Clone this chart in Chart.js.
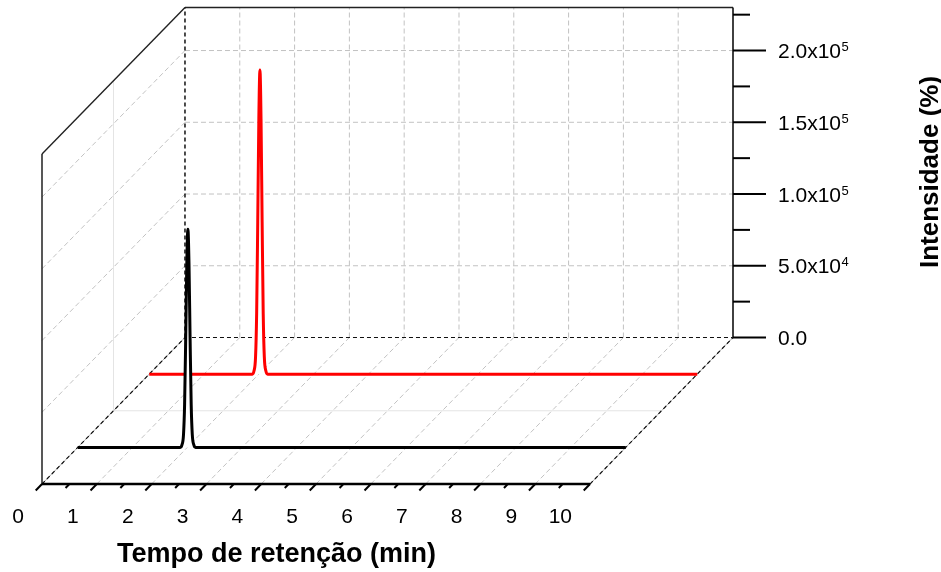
<!DOCTYPE html>
<html>
<head>
<meta charset="utf-8">
<script src="https://cdn.jsdelivr.net/npm/chart.js@4/dist/chart.umd.min.js"></script>
<style>
  html, body { margin: 0; padding: 0; background: #fff; overflow: hidden; }
  #wrap { width: 941px; height: 572px; position: relative; }
</style>
</head>
<body>
<div id="wrap"><canvas id="c"></canvas></div>
<script>
// Chromatogram 1 (black, front row): retention time (min) and intensity
const timeA = [0, 1.87, 1.90, 1.93, 1.95, 1.97, 1.99, 2.01, 2.03, 2.05, 2.07, 2.09, 2.12, 2.15, 10];
const intensityA = [0, 0, 1500, 9000, 30000, 76000, 128000, 152000, 128000, 76000, 30000, 9000, 1500, 0, 0];

// Chromatogram 2 (red, back row)
const timeB = [0, 1.88, 1.91, 1.94, 1.96, 1.98, 2.00, 2.02, 2.04, 2.06, 2.08, 2.10, 2.13, 2.16, 10];
const intensityB = [0, 0, 2000, 12000, 42000, 106000, 178000, 212000, 178000, 106000, 42000, 12000, 2000, 0, 0];

// Axis ticks and labels
const xTicks = [0, 1, 2, 3, 4, 5, 6, 7, 8, 9, 10];
const xTickLabels = ['0', '1', '2', '3', '4', '5', '6', '7', '8', '9', '10'];
const yTicks = [0, 50000, 100000, 150000, 200000];
const yTickMantissa = ['0.0', '5.0x10', '1.0x10', '1.5x10', '2.0x10'];
const yTickExponent = ['', '4', '5', '5', '5'];
const yMinorTicks = [25000, 75000, 125000, 175000, 225000];
const xTitle = 'Tempo de retenção (min)';
const yTitle = 'Intensidade (%)';

// Box extents and oblique depth offset (in back-plane data units)
const T_MAX = 10;
const I_MAX = 230000;
const DEPTH_DX = 2.609;
const DEPTH_DY = 102100;
const DEPTH_A = 0.25;   // 0 = front face, 1 = back plane
const DEPTH_B = 0.75;

// Oblique projection of (time, intensity, depth) onto the back plane
function toPlane(t, I, d) {
  return { x: t - (1 - d) * DEPTH_DX, y: I - (1 - d) * DEPTH_DY };
}

const FONT = "'Liberation Sans', Arial, Helvetica, sans-serif";

const boxPlugin = {
  id: 'box3d',
  beforeDatasetsDraw(chart) {
    const ctx = chart.ctx;
    const xs = chart.scales.x, ys = chart.scales.y;
    const P = (t, I, d) => {
      const q = toPlane(t, I, d);
      return [xs.getPixelForValue(q.x), ys.getPixelForValue(q.y)];
    };
    const seg = (a, b, color, width, dash) => {
      ctx.save();
      ctx.beginPath();
      ctx.strokeStyle = color;
      ctx.lineWidth = width;
      ctx.setLineDash(dash || []);
      ctx.moveTo(a[0], a[1]);
      ctx.lineTo(b[0], b[1]);
      ctx.stroke();
      ctx.restore();
    };
    const GRID = '#c2c2c2';
    const GDASH = [5, 3];

    // mid-depth guide lines
    seg(P(0, 0, 0.5), P(0, I_MAX, 0.5), '#e4e4e4', 1);
    seg(P(0, 0, 0.5), P(T_MAX, 0, 0.5), '#e4e4e4', 1);

    // back plane grid
    xTicks.forEach(t => {
      if (t > 0 && t < T_MAX) seg(P(t, 0, 1), P(t, I_MAX, 1), GRID, 1, GDASH);
    });
    yTicks.forEach(I => {
      if (I > 0) seg(P(0, I, 1), P(T_MAX, I, 1), GRID, 1, GDASH);
    });
    // left wall grid
    yTicks.forEach(I => {
      if (I > 0) seg(P(0, I, 0), P(0, I, 1), GRID, 1, GDASH);
    });
    // floor grid
    xTicks.forEach(t => {
      if (t > 0 && t < T_MAX) seg(P(t, 0, 0), P(t, 0, 1), GRID, 1, GDASH);
    });

    // box edges
    seg(P(0, I_MAX, 1), P(T_MAX, I_MAX, 1), '#222', 1.6);
    seg(P(0, I_MAX, 0), P(0, I_MAX, 1), '#222', 1.4);
    seg(P(0, 0, 0), P(0, I_MAX, 0), '#111', 1.4);
    seg(P(0, 0, 1), P(0, I_MAX, 1), '#111', 1.5, [4, 3]);
    seg(P(0, 0, 1), P(T_MAX, 0, 1), '#111', 1.2, [4, 3]);
    seg(P(0, 0, 0), P(0, 0, 1), '#aaa', 1);
    seg(P(0, 0, 0), P(0, 0, 1), '#111', 1.2, [4, 3]);
    seg(P(T_MAX, 0, 0), P(T_MAX, 0, 1), '#aaa', 1);
    seg(P(T_MAX, 0, 0), P(T_MAX, 0, 1), '#111', 1.2, [4, 3]);
    seg(P(T_MAX, 0, 1), P(T_MAX, I_MAX, 1), '#111', 1.6);
    seg(P(0, 0, 0), P(T_MAX, 0, 0), '#000', 2.5);

    // time-axis ticks along the front edge, pointing toward the viewer
    const f0 = P(0, 0, 0), f1 = P(0, 0, 1);
    const len = Math.hypot(f1[0] - f0[0], f1[1] - f0[1]);
    const ux = -(f1[0] - f0[0]) / len, uy = -(f1[1] - f0[1]) / len;
    xTicks.forEach(t => {
      const a = P(t, 0, 0);
      seg(a, [a[0] + ux * 9, a[1] + uy * 9], '#000', 2);
      if (t < T_MAX) {
        const m = P(t + 0.5, 0, 0);
        seg(m, [m[0] + ux * 5.5, m[1] + uy * 5.5], '#000', 2);
      }
    });

    // intensity-axis ticks on the right edge of the back plane
    yTicks.forEach(I => {
      const a = P(T_MAX, I, 1);
      seg(a, [a[0] + 33, a[1]], '#000', 2);
    });
    yMinorTicks.forEach(I => {
      const a = P(T_MAX, I, 1);
      seg(a, [a[0] + 17, a[1]], '#000', 2);
    });
  },
  afterDraw(chart) {
    const ctx = chart.ctx;
    const xs = chart.scales.x, ys = chart.scales.y;
    const P = (t, I, d) => {
      const q = toPlane(t, I, d);
      return [xs.getPixelForValue(q.x), ys.getPixelForValue(q.y)];
    };
    ctx.save();
    ctx.fillStyle = '#000';

    // time tick labels
    ctx.font = '21px ' + FONT;
    ctx.textAlign = 'right';
    ctx.textBaseline = 'alphabetic';
    xTicks.forEach((t, i) => {
      const a = P(t, 0, 0);
      ctx.fillText(xTickLabels[i], a[0] - 18, a[1] + 39);
    });

    // intensity tick labels with exponent
    ctx.textAlign = 'left';
    yTicks.forEach((I, i) => {
      const a = P(T_MAX, I, 1);
      const x0 = a[0] + 45;
      ctx.font = '21px ' + FONT;
      ctx.fillText(yTickMantissa[i], x0, a[1] + 7.5);
      if (yTickExponent[i]) {
        const w = ctx.measureText(yTickMantissa[i]).width;
        ctx.font = '13px ' + FONT;
        ctx.fillText(yTickExponent[i], x0 + w + 0.5, a[1] + 0.5);
      }
    });

    // axis titles
    ctx.font = 'bold 27px ' + FONT;
    ctx.textAlign = 'center';
    ctx.fillText(xTitle, 276.5, 562);
    ctx.font = 'bold 26px ' + FONT;
    ctx.save();
    ctx.translate(938, 172);
    ctx.rotate(-Math.PI / 2);
    ctx.fillText(yTitle, 0, 0);
    ctx.restore();

    ctx.restore();
  }
};

const seriesA = timeA.map((t, i) => toPlane(t, intensityA[i], DEPTH_A));
const seriesB = timeB.map((t, i) => toPlane(t, intensityB[i], DEPTH_B));

new Chart(document.getElementById('c'), {
  type: 'line',
  data: {
    datasets: [
      {
        data: seriesA,
        borderColor: '#000000',
        borderWidth: 3,
        backgroundColor: '#ffffff',
        fill: { value: toPlane(0, 0, DEPTH_A).y },
        cubicInterpolationMode: 'monotone',
        pointRadius: 0,
        order: 0
      },
      {
        data: seriesB,
        borderColor: '#ff0000',
        borderWidth: 3,
        backgroundColor: '#ffffff',
        fill: { value: toPlane(0, 0, DEPTH_B).y },
        cubicInterpolationMode: 'monotone',
        pointRadius: 0,
        order: 1
      }
    ]
  },
  options: {
    responsive: true,
    maintainAspectRatio: false,
    devicePixelRatio: 1,
    animation: false,
    layout: { padding: { left: 42, right: 208, top: 7.5, bottom: 88 } },
    scales: {
      x: { type: 'linear', min: -DEPTH_DX, max: T_MAX, display: false },
      y: { type: 'linear', min: -DEPTH_DY, max: I_MAX, display: false }
    },
    plugins: {
      legend: { display: false },
      tooltip: { enabled: false }
    },
    clip: false
  },
  plugins: [boxPlugin]
});
</script>
</body>
</html>
